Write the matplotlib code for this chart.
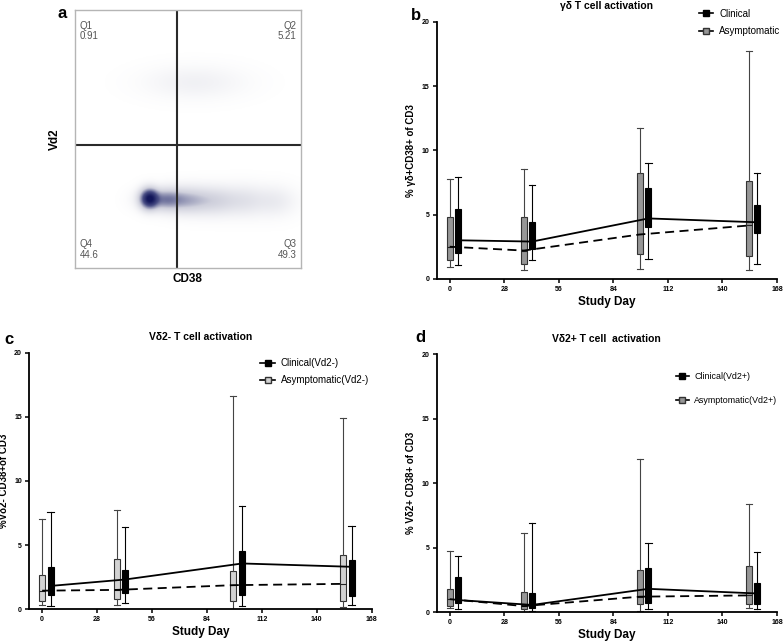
'''
Flow plot plus three box-and-whisker panels of gamma-delta T cell activation
'''
import numpy as np
import matplotlib
matplotlib.use('Agg')
import matplotlib.pyplot as plt
from matplotlib.colors import LinearSegmentedColormap, PowerNorm
from matplotlib.lines import Line2D

plt.rcParams['font.family'] = ['Liberation Sans', 'DejaVu Sans']

# ---- data ----
study_days = [0, 28, 56, 84, 112, 140, 168]
y_ticks = [0, 5, 10, 15, 20]
asym_days = [0, 38, 97.5, 153.5]
clin_days = [4.3, 42.3, 102, 157.8]

# panel a quadrant labels and density clusters (axes fraction)
quad_names = ['Q1', 'Q2', 'Q4', 'Q3']
quad_values = ['0.91', '5.21', '44.6', '49.3']
flow_x = [0.33, 0.40, 0.50, 0.62, 0.75, 0.88, 0.53]
flow_y = [0.268, 0.265, 0.262, 0.26, 0.26, 0.258, 0.72]
flow_sx = [0.022, 0.05, 0.06, 0.06, 0.06, 0.05, 0.11]
flow_sy = [0.02, 0.022, 0.026, 0.028, 0.03, 0.03, 0.032]
flow_w = [1.0, 0.28, 0.16, 0.08, 0.04, 0.02, 0.01]
gate_x = 0.451
gate_y = 0.476

# panel b: gd T cells
b_clin_med = [3.0, 2.9, 4.7, 4.4]
b_clin_q1 = [2.0, 2.3, 4.0, 3.55]
b_clin_q3 = [5.45, 4.4, 7.05, 5.75]
b_clin_lo = [1.05, 1.45, 1.55, 1.15]
b_clin_hi = [7.95, 7.3, 9.0, 8.25]
b_asym_med = [2.5, 2.2, 3.45, 4.15]
b_asym_q1 = [1.45, 1.15, 1.9, 1.8]
b_asym_q3 = [4.8, 4.8, 8.2, 7.65]
b_asym_lo = [0.9, 0.7, 0.78, 0.7]
b_asym_hi = [7.75, 8.55, 11.75, 17.7]

# panel c: Vd2- T cells
c_clin_med = [1.82, 2.32, 3.57, 3.31]
c_clin_q1 = [1.09, 1.30, 1.12, 1.02]
c_clin_q3 = [3.28, 3.05, 4.58, 3.83]
c_clin_lo = [0.23, 0.47, 0.29, 0.36]
c_clin_hi = [7.58, 6.38, 8.07, 6.48]
c_asym_med = [1.45, 1.51, 1.88, 1.98]
c_asym_q1 = [0.65, 0.83, 0.63, 0.68]
c_asym_q3 = [2.7, 3.93, 3.0, 4.22]
c_asym_lo = [0.31, 0.34, 0.0, 0.18]
c_asym_hi = [7.0, 7.76, 16.64, 14.92]

# panel d: Vd2+ T cells
d_clin_med = [0.93, 0.55, 1.8, 1.44]
d_clin_q1 = [0.67, 0.28, 0.72, 0.59]
d_clin_q3 = [2.73, 1.44, 3.45, 2.29]
d_clin_lo = [0.23, 0.1, 0.23, 0.21]
d_clin_hi = [4.38, 6.9, 5.39, 4.66]
d_asym_med = [1.0, 0.46, 1.19, 1.29]
d_asym_q1 = [0.46, 0.2, 0.59, 0.59]
d_asym_q3 = [1.78, 1.55, 3.25, 3.61]
d_asym_lo = [0.34, 0.03, 0.05, 0.31]
d_asym_hi = [4.74, 6.13, 11.88, 8.4]


def box_stats(med, q1, q3, lo, hi):
    '''build the list of dicts that ax.bxp wants'''
    return [dict(med=m, q1=a, q3=b, whislo=l, whishi=h, fliers=[])
            for m, a, b, l, h in zip(med, q1, q3, lo, hi)]


def draw_panel(ax, clin, asym, asym_color, title, ylabel, labels, legend_xy,
               legend_size=7, legend_gap=0.75):
    '''boxes for both groups, median lines and prism-like axes'''
    # asymptomatic boxes (grey)
    ax.bxp(box_stats(*asym), positions=asym_days, widths=3.0, capwidths=3.2,
           showfliers=False, patch_artist=True, manage_ticks=False,
           boxprops=dict(facecolor=asym_color, edgecolor='#333333', linewidth=0.8),
           whiskerprops=dict(color='#444444', linewidth=0.8),
           capprops=dict(color='#444444', linewidth=0.8),
           medianprops=dict(color='#222222', linewidth=0.8))
    # clinical boxes (black)
    ax.bxp(box_stats(*clin), positions=clin_days, widths=3.0, capwidths=3.2,
           showfliers=False, patch_artist=True, manage_ticks=False,
           boxprops=dict(facecolor='black', edgecolor='black', linewidth=0.8),
           whiskerprops=dict(color='black', linewidth=0.8),
           capprops=dict(color='black', linewidth=0.8),
           medianprops=dict(color='black', linewidth=0.8))

    # median lines
    ax.plot(clin_days, clin[0], '-', color='black', lw=1.3, zorder=4)
    ax.plot(asym_days, asym[0], '--', color='black', lw=1.3, dashes=(5, 3), zorder=4)

    ax.set_xlim(-6.7, 168)
    ax.set_ylim(0, 20)
    ax.set_xticks(study_days)
    ax.set_yticks(y_ticks)
    ax.spines['top'].set_visible(False)
    ax.spines['right'].set_visible(False)
    ax.spines['left'].set_linewidth(1.3)
    ax.spines['bottom'].set_linewidth(1.3)
    ax.tick_params(direction='out', length=3, width=1.1, labelsize=5, pad=2)
    for lab in ax.get_xticklabels() + ax.get_yticklabels():
        lab.set_fontweight('bold')
    ax.set_xlabel('Study Day', fontsize=8.5, fontweight='bold', labelpad=2)
    ax.set_ylabel(ylabel, fontsize=7, fontweight='bold', labelpad=4)
    ax.set_title(title, fontsize=7.5, fontweight='bold', pad=9)

    handles = [Line2D([], [], color='black', lw=1.2, marker='s', markersize=5,
                      markerfacecolor='black', markeredgecolor='black'),
               Line2D([], [], color='black', lw=1.2, marker='s', markersize=5,
                      markerfacecolor=asym_color, markeredgecolor='#333333')]
    ax.legend(handles, labels, loc='upper left', bbox_to_anchor=legend_xy,
              bbox_transform=ax.figure.transFigure, frameon=False, fontsize=legend_size,
              handlelength=1.5, handletextpad=0.6, labelspacing=legend_gap, borderpad=0)


fig = plt.figure(figsize=(7.84, 6.41), dpi=100)

# ---- panel a: flow cytometry plot ----
ax_a = fig.add_axes([0.0957, 0.582, 0.288, 0.402])
gx, gy = np.meshgrid(np.linspace(0, 1, 400), np.linspace(0, 1, 400))
dens = np.zeros_like(gx)
for cx, cy, sx, sy, w in zip(flow_x, flow_y, flow_sx, flow_sy, flow_w):
    dens += w * np.exp(-((gx - cx) ** 2 / (2 * sx ** 2) + (gy - cy) ** 2 / (2 * sy ** 2)))
flow_cmap = LinearSegmentedColormap.from_list('flow', ['#ffffff', '#cfd0dc', '#4a4f85', '#12165a'])
ax_a.imshow(dens, extent=[0, 1, 0, 1], origin='lower', cmap=flow_cmap,
            norm=PowerNorm(gamma=0.5, vmin=0, vmax=1), aspect='auto', interpolation='bilinear')
ax_a.axvline(gate_x, color='#2a2a2a', lw=1.5)
ax_a.axhline(gate_y, color='#2a2a2a', lw=1.5)
ax_a.set_xlim(0, 1)
ax_a.set_ylim(0, 1)
ax_a.set_xticks([])
ax_a.set_yticks([])
for sp in ax_a.spines.values():
    sp.set_color('#b5b5b5')
    sp.set_linewidth(1.0)
quad_pos = [(0.02, 0.96, 'left', 'top'), (0.98, 0.96, 'right', 'top'),
            (0.02, 0.03, 'left', 'bottom'), (0.98, 0.03, 'right', 'bottom')]
for name, val, (qx, qy, ha, va) in zip(quad_names, quad_values, quad_pos):
    ax_a.text(qx, qy, name + '\n' + val, transform=ax_a.transAxes, ha=ha, va=va,
              fontsize=7, color='#555555', linespacing=1.1)
ax_a.set_xlabel('CD38', fontsize=8.5, fontweight='bold', labelpad=4)
ax_a.set_ylabel('Vd2', fontsize=8.5, fontweight='bold', labelpad=10)

# ---- panels b, c, d ----
ax_b = fig.add_axes([0.557, 0.565, 0.434, 0.401])
ax_c = fig.add_axes([0.037, 0.0495, 0.437, 0.4003])
ax_d = fig.add_axes([0.557, 0.0452, 0.434, 0.4021])

draw_panel(ax_b,
           [b_clin_med, b_clin_q1, b_clin_q3, b_clin_lo, b_clin_hi],
           [b_asym_med, b_asym_q1, b_asym_q3, b_asym_lo, b_asym_hi],
           '#969696', 'γδ T cell activation', '% γδ+CD38+ of CD3',
           ['Clinical', 'Asymptomatic'], (0.885, 0.994))
draw_panel(ax_c,
           [c_clin_med, c_clin_q1, c_clin_q3, c_clin_lo, c_clin_hi],
           [c_asym_med, c_asym_q1, c_asym_q3, c_asym_lo, c_asym_hi],
           '#d2d2d2', 'Vδ2- T cell activation', '%Vδ2- CD38+of CD3',
           ['Clinical(Vd2-)', 'Asymptomatic(Vd2-)'], (0.326, 0.449))
draw_panel(ax_d,
           [d_clin_med, d_clin_q1, d_clin_q3, d_clin_lo, d_clin_hi],
           [d_asym_med, d_asym_q1, d_asym_q3, d_asym_lo, d_asym_hi],
           '#969696', 'Vδ2+ T cell  activation', '% Vδ2+ CD38+ of CD3',
           ['Clinical(Vd2+)', 'Asymptomatic(Vd2+)'], (0.856, 0.427),
           legend_size=6.4, legend_gap=1.75)

# panel letters
fig.text(57 / 784, 1 - 13 / 641, 'a', fontsize=12, fontweight='bold', va='center')
fig.text(411 / 784, 1 - 15 / 641, 'b', fontsize=12, fontweight='bold', va='center')
fig.text(4 / 784, 1 - 340 / 641, 'c', fontsize=12, fontweight='bold', va='center')
fig.text(415 / 784, 1 - 338 / 641, 'd', fontsize=12, fontweight='bold', va='center')

fig.savefig('out.png', dpi=100)
